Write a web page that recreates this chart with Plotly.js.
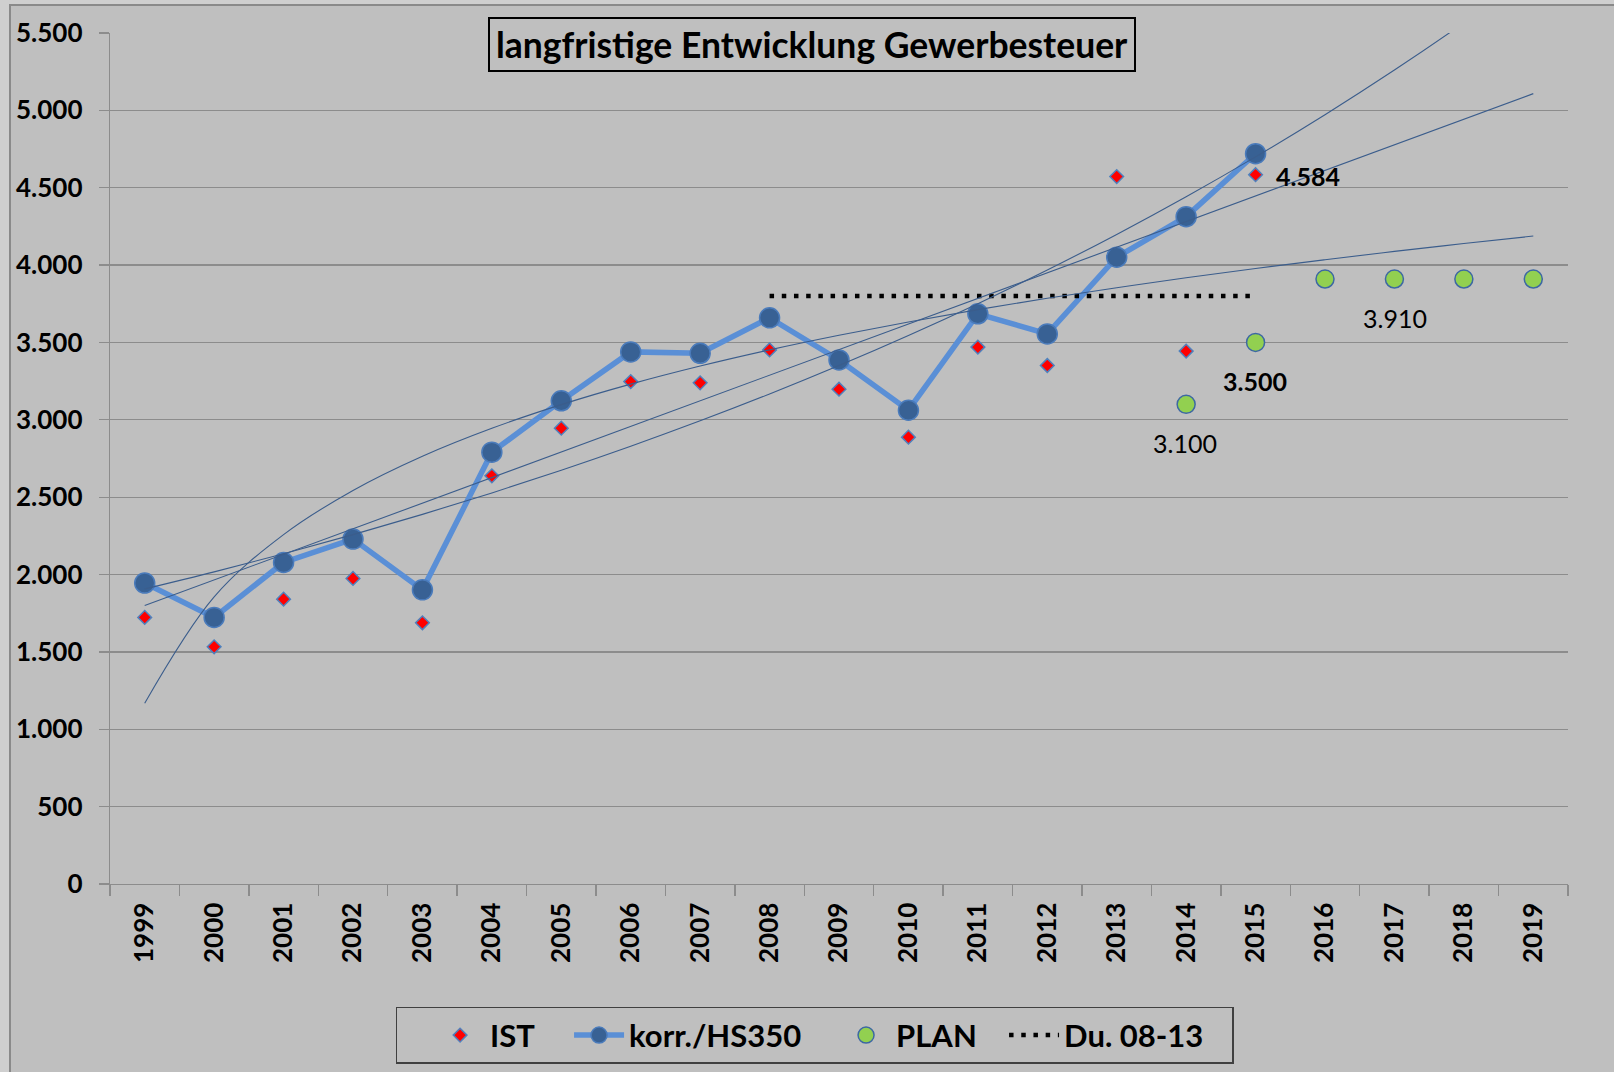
<!DOCTYPE html>
<html>
<head>
<meta charset="utf-8">
<script src="https://cdn.plot.ly/plotly-3.0.1.min.js"></script>
<style>
  html, body { margin: 0; padding: 0; background: #cfcfcf; width: 1614px; height: 1072px; overflow: hidden; }
  #frame { position: absolute; left: 9px; top: 4px; width: 1605px; height: 1068px;
           border-left: 2px solid #8a8a8a; border-top: 2px solid #8a8a8a; background: #bfbfbf; }
  #chart { position: absolute; left: 0; top: 0; width: 1603px; height: 1066px; }
</style>
</head>
<body>
<div id="frame"><div id="chart"></div></div>
<script>
// ---- data ----
const years = ["1999","2000","2001","2002","2003","2004","2005","2006","2007","2008",
               "2009","2010","2011","2012","2013","2014","2015","2016","2017","2018","2019"];
const ist   = [1723,1533,1841,1975,1688,2638,2946,3247,3239,3452,3198,2888,3470,3351,4572,3444,4584,null,null,null,null];
const korr  = [1945,1723,2078,2229,1901,2791,3123,3439,3430,3659,3387,3062,3685,3555,4051,4313,4720,null,null,null,null];
const plan  = [null,null,null,null,null,null,null,null,null,null,null,null,null,null,null,3100,3500,3910,3910,3910,3910];
const du0813 = [null,null,null,null,null,null,null,null,null,3800,3800,3800,3800,3800,3800,3800,3800,null,null,null,null];
const labelYears = ["2015","2015","2014","2017"];
const labelValues = [4584,3500,3100,3910];
const labelBold = [true,true,false,false];

// ---- trendlines (least squares fits of korr./HS350, like spreadsheet trendlines) ----
function fit(xs, ys) {
  const n = xs.length;
  const mx = xs.reduce((a,b)=>a+b,0)/n, my = ys.reduce((a,b)=>a+b,0)/n;
  let sxy = 0, sxx = 0;
  for (let i=0;i<n;i++){ sxy += (xs[i]-mx)*(ys[i]-my); sxx += (xs[i]-mx)*(xs[i]-mx); }
  const b = sxy/sxx; return {a: my - b*mx, b: b};
}
const kx = [], ky = [];
korr.forEach((v,i)=>{ if (v!==null){ kx.push(i+1); ky.push(v); } });
const linF = fit(kx, ky);
const expF = fit(kx, ky.map(Math.log));
const logF = fit(kx.map(Math.log), ky);
const pos = years.map((_,i)=>i+1);
const trendLin = pos.map(x => linF.a + linF.b*x);
const trendExp = pos.map(x => Math.exp(expF.a + expF.b*x));
const trendLog = pos.map(x => logF.a + logF.b*Math.log(x));

const FONT = 'Lato, "Open Sans", sans-serif';
const gridCol = '#8c8c8c';
const trendStyle = {color:'#3b5d8c', width:1.1, shape:'spline'};

const traces = [
  {x: years, y: ist, name: 'IST', type:'scatter', mode:'markers', legendwidth:74,
   marker:{symbol:'diamond', size:10.5, color:'#ff0000', line:{color:'#4f81bd', width:1.5}}},
  {x: years, y: korr, name: 'korr./HS350', type:'scatter', mode:'lines+markers', legendwidth:202,
   line:{color:'#5a8fd6', width:5.5},
   marker:{symbol:'circle', size:20, color:'#386194', line:{color:'#4a7bbb', width:1.5}}},
  {x: years, y: plan, name: 'PLAN', type:'scatter', mode:'markers', legendwidth:103,
   marker:{symbol:'circle', size:18, color:'#92d050', line:{color:'#3d68a3', width:1.5}}},
  {x: years, y: du0813, name: 'Du. 08-13', type:'scatter', mode:'lines', legendwidth:163,
   line:{color:'#000000', width:4.5, dash:'4.5px,7.7px'}},
  {x: years, y: trendLog, type:'scatter', mode:'lines', line:trendStyle, showlegend:false, hoverinfo:'skip'},
  {x: years, y: trendLin, type:'scatter', mode:'lines', line:{color:'#3b5d8c', width:1.1}, showlegend:false, hoverinfo:'skip'},
  {x: years, y: trendExp, type:'scatter', mode:'lines', line:trendStyle, showlegend:false, hoverinfo:'skip'}
];

const fmt = v => String(v).replace(/\B(?=(\d{3})+(?!\d))/g, '.');
const annotations = [
  {xref:'paper', yref:'paper', x:0.4817, y:0.987, xanchor:'center', yanchor:'middle',
   text:'langfristige Entwicklung Gewerbesteuer', showarrow:false,
   font:{family:FONT, size:35.5, color:'#000', weight:700},
   bgcolor:'#bfbfbf', bordercolor:'#000', borderwidth:2, borderpad:2, width:640, height:47}
];
labelYears.forEach((yr,i)=>{
  const first = i===0;
  annotations.push({x: years.indexOf(yr), y: labelValues[i], xref:'x', yref:'y', showarrow:false,
    text: fmt(labelValues[i]),
    xanchor: first ? 'left' : 'center', yanchor:'middle',
    xshift: first ? 18 : (yr==='2017' ? 1 : -1), yshift: first ? -1 : -39,
    font:{family:FONT, size:25, color:'#000', weight: labelBold[i] ? 700 : 400}});
});

const layout = {
  width:1603, height:1066,
  paper_bgcolor:'#bfbfbf', plot_bgcolor:'#bfbfbf',
  margin:{l:99, r:46, t:27, b:188},
  separators:',.',
  showlegend:true,
  legend:{orientation:'h', x:0.4835, xanchor:'center', yref:'container', y:0.061, yanchor:'top',
          bgcolor:'rgba(0,0,0,0)', bordercolor:'#404040', borderwidth:1.5,
          font:{family:FONT, size:31, color:'#000', weight:700}, itemwidth:50,
          title:{text:'\u00a0\u00a0\u00a0', side:'left', font:{family:FONT, size:31}}},
  xaxis:{type:'category', range:[-0.5,20.5], tickson:'boundaries', ticks:'outside', ticklen:11,
         tickcolor:gridCol, tickwidth:1.3, showline:true, linecolor:gridCol, linewidth:1.3,
         showgrid:false, tickangle:-90, tickfont:{family:FONT, size:26, color:'#000', weight:700},
         ticklabelstandoff:7, fixedrange:true, automargin:false},
  yaxis:{range:[0,5500], dtick:500, tick0:0, tickformat:',d', ticks:'outside', ticklen:10,
         tickcolor:gridCol, tickwidth:1.3, showline:true, linecolor:gridCol, linewidth:1.3,
         gridcolor:gridCol, gridwidth:1.3, zeroline:false, automargin:false,
         tickfont:{family:FONT, size:26, color:'#000', weight:700}, ticklabelstandoff:11, fixedrange:true},
  annotations: annotations
};
Plotly.newPlot('chart', traces, layout, {displayModeBar:false, staticPlot:true});
</script>
</body>
</html>
